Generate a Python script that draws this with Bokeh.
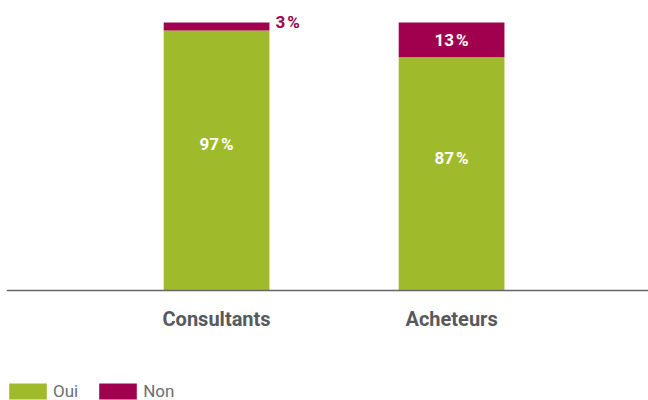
from bokeh.plotting import figure
from bokeh.models import ColumnDataSource, Range1d, Legend, LegendItem, FixedTicker
from bokeh.embed import file_html
from bokeh.resources import INLINE
from bokeh.core.properties import value

categories = ["Consultants", "Acheteurs"]
oui = [97, 87]
non = [3, 13]
series_names = ["Oui", "Non"]
colors = ["#9FBA2B", "#A1004F"]

xs = list(range(len(categories)))
bw = 0.45
FONT = "Roboto"

src = ColumnDataSource(dict(
    x=xs,
    oui=oui,
    tot=[o + n for o, n in zip(oui, non)],
    oui_lab=[f"{o}\u202f%" for o in oui],
    oui_y=[o / 2 + 6 for o in oui],
))

p = figure(width=648, height=400, output_backend="svg", toolbar_location=None,
           x_range=Range1d(-0.894, 1.838), y_range=Range1d(-41.0, 108.2),
           min_border=0, min_border_left=6, min_border_right=0,
           min_border_top=0, min_border_bottom=0)
p.outline_line_color = None
p.xgrid.grid_line_color = None
p.ygrid.grid_line_color = None
p.yaxis.visible = False
p.background_fill_color = "white"
p.border_fill_color = "white"

r_oui = p.vbar(x="x", width=bw, bottom=0, top="oui", source=src, fill_color=colors[0], line_color=None)
r_non = p.vbar(x="x", width=bw, bottom="oui", top="tot", source=src, fill_color=colors[1], line_color=None)

p.text(x="x", y="oui_y", text="oui_lab", source=src, text_color="white",
       text_font=value(FONT), text_font_style="bold", text_font_size="17px",
       text_align="center", text_baseline="middle")

# Non labels: inside if segment is big enough, outside otherwise
in_x, in_y, in_t, out_x, out_y, out_t = [], [], [], [], [], []
for i, (o, n) in enumerate(zip(oui, non)):
    lab = f"{n}\u202f%"
    if n >= 8:
        in_x.append(xs[i]); in_y.append(o + n / 2); in_t.append(lab)
    else:
        out_x.append(xs[i] + bw / 2); out_y.append(o + n); out_t.append(lab)

p.text(x=in_x, y=in_y, text=in_t, text_color="white",
       text_font=value(FONT), text_font_style="bold", text_font_size="17px",
       text_align="center", text_baseline="middle")
p.text(x=out_x, y=out_y, text=out_t, text_color=colors[1], x_offset=6,
       text_font=value(FONT), text_font_style="bold", text_font_size="17px",
       text_align="left", text_baseline="middle")

ax = p.xaxis[0]
ax.fixed_location = 0
ax.ticker = FixedTicker(ticks=xs)
ax.major_label_overrides = {i: c for i, c in enumerate(categories)}
ax.major_tick_line_color = None
ax.major_tick_out = 0
ax.major_tick_in = 0
ax.minor_tick_line_color = None
ax.axis_line_color = "#666666"
ax.axis_line_width = 1.5
ax.major_label_standoff = 16
ax.major_label_text_font = FONT
ax.major_label_text_font_style = "bold"
ax.major_label_text_font_size = "20px"
ax.major_label_text_color = "#58595B"

legend = Legend(items=[LegendItem(label=series_names[0], renderers=[r_oui]),
                       LegendItem(label=series_names[1], renderers=[r_non])],
                orientation="horizontal", location=(-2, -1),
                glyph_width=47, glyph_height=20, label_height=20,
                label_text_font=FONT,
                label_text_font_size="17px", label_text_color="#6D6E71",
                spacing=16, padding=0, margin=0, label_standoff=2,
                border_line_color=None, background_fill_alpha=0)
p.add_layout(legend, "center")

open("out.html", "w").write(file_html(p, INLINE))
